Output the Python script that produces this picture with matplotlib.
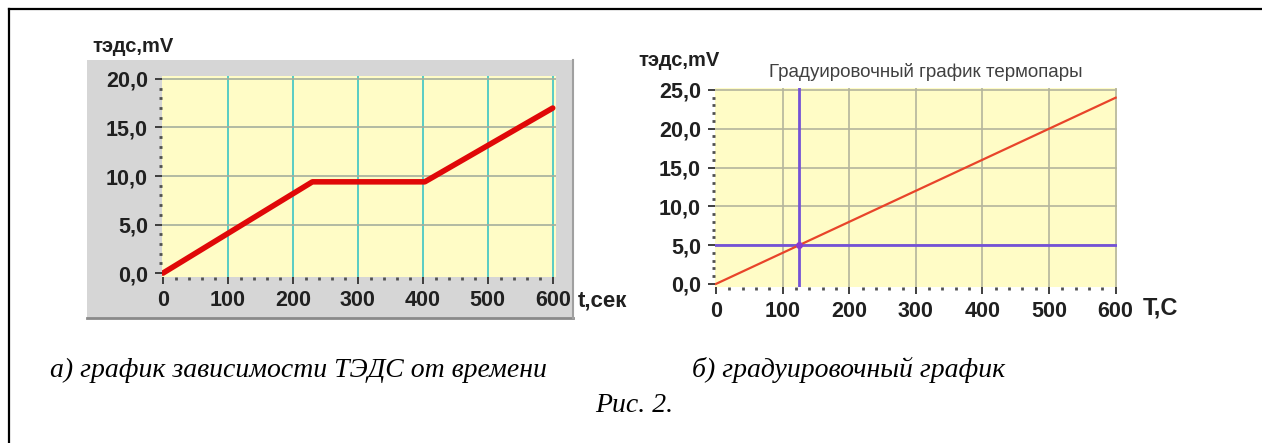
"""Рис. 2 — график ТЭДС от времени и градуировочный график термопары."""

import matplotlib
matplotlib.use("Agg")
import matplotlib.pyplot as plt
from matplotlib.lines import Line2D
from matplotlib.patches import Rectangle
from matplotlib.ticker import MultipleLocator, FixedLocator

W, H = 1262, 443

# а) ТЭДС от времени
time_s = [0, 230, 403, 600]
emf_time = [0.0, 9.4, 9.4, 17.0]
time_ticks = [0, 100, 200, 300, 400, 500, 600]
emf_ticks_a = [0, 5, 10, 15, 20]
emf_labels_a = ["0,0", "5,0", "10,0", "15,0", "20,0"]

# б) градуировочный график
temp_c = [0, 600]
emf_temp = [0.0, 24.0]
temp_ticks = [0, 100, 200, 300, 400, 500, 600]
emf_ticks_b = [0, 5, 10, 15, 20, 25]
emf_labels_b = ["0,0", "5,0", "10,0", "15,0", "20,0", "25,0"]
mark_T, mark_emf = 125, 5.0

SANS = ["Liberation Sans", "DejaVu Sans"]
TICKFONT = dict(family=SANS, weight="bold", size=15.5)
YELLOW = "#fffcc6"


def rect(x0, y0, x1, y1):
    # пиксели -> доли фигуры
    return [x0 / W, 1 - y1 / H, (x1 - x0) / W, (y1 - y0) / H]


def ftext(x, y, s, **kw):
    fig.text(x / W, 1 - y / H, s, **kw)


def style_axis(ax, xt, yt, ylabels):
    for sp in ax.spines.values():
        sp.set_visible(False)
    ax.set_facecolor(YELLOW)
    ax.xaxis.set_major_locator(FixedLocator(xt))
    ax.xaxis.set_minor_locator(MultipleLocator(20))
    ax.yaxis.set_major_locator(FixedLocator(yt))
    ax.yaxis.set_minor_locator(MultipleLocator(1))
    ax.tick_params(which="major", direction="out", length=5, width=1.3, color="#303030",
                   labelcolor="#202020", pad=5)
    ax.tick_params(which="minor", direction="out", length=2, width=2, color="#505050")
    ax.set_xticks(xt)
    ax.set_xticklabels([str(v) for v in xt], **TICKFONT)
    ax.set_yticks(yt)
    ax.set_yticklabels(ylabels, **TICKFONT)
    ax.set_axisbelow(True)


fig = plt.figure(figsize=(W / 100, H / 100), dpi=100)

# рамка страницы (верх и лево)
fig.add_artist(Line2D([9 / W, 1], [1 - 9 / H, 1 - 9 / H], transform=fig.transFigure, color="black", lw=1.6))
fig.add_artist(Line2D([9 / W, 9 / W], [0, 1 - 9 / H], transform=fig.transFigure, color="black", lw=1.6))

# серая панель под графиком а)
x0, y0, x1, y1 = 87, 60, 573, 318
fig.add_artist(Rectangle((x0 / W, 1 - y1 / H), (x1 - x0) / W, (y1 - y0) / H,
                         transform=fig.transFigure, facecolor="#d6d6d6", edgecolor="none", zorder=-10))
fig.add_artist(Line2D([x0 / W, x1 / W], [1 - y1 / H, 1 - y1 / H], transform=fig.transFigure,
                      color="#8a8a8a", lw=2, zorder=-9))
fig.add_artist(Line2D([x1 / W, x1 / W], [1 - y1 / H, 1 - y0 / H], transform=fig.transFigure,
                      color="#a0a0a0", lw=1.5, zorder=-9))

# ---- а) ----
ax1 = fig.add_axes(rect(162, 76, 556, 276.5))
ax1.set_xlim(-1.5, 605)
ax1.set_ylim(-0.35, 20.3)
style_axis(ax1, time_ticks, emf_ticks_a, emf_labels_a)
for v in time_ticks[1:]:
    ax1.axvline(v, color="#3cc4c4", lw=1.2, zorder=1)
for v in emf_ticks_a[1:]:
    ax1.axhline(v, color="#a4ae9c", lw=1.2, zorder=1)
ax1.plot(time_s, emf_time, color="#e00808", lw=4, solid_capstyle="round", zorder=3)
ftext(92, 46, "тэдс,mV", fontsize=14.5, fontweight="bold", color="#202020", va="center", family=SANS)
ftext(578, 301, "t,сек", fontsize=16, fontweight="bold", color="#202020", va="center", family=SANS)

# ---- б) ----
ax2 = fig.add_axes(rect(715, 88, 1117, 287))
ax2.set_xlim(-1.5, 602)
ax2.set_ylim(-0.4, 25.25)
style_axis(ax2, temp_ticks, emf_ticks_b, emf_labels_b)
for v in temp_ticks[1:]:
    ax2.axvline(v, color="#b4b49c", lw=1.2, zorder=1)
for v in emf_ticks_b[1:]:
    ax2.axhline(v, color="#b4b49c", lw=1.2, zorder=1)
ax2.axvline(mark_T, color="#7452d6", lw=2, zorder=2)
ax2.axhline(mark_emf, color="#7452d6", lw=2, zorder=2)
ax2.plot(temp_c, emf_temp, color="#e8442a", lw=1.6, zorder=3)
ax2.plot([mark_T], [mark_emf], "o", color="#8a3ad0", ms=4, zorder=4)
ftext(638, 61, "тэдс,mV", fontsize=14.5, fontweight="bold", color="#202020", va="center", family=SANS)
ftext(926, 72, "Градуировочный график термопары", fontsize=13.5, color="#404040",
      ha="center", va="center", family=SANS)
ftext(1143, 308, "T,C", fontsize=17, fontweight="bold", color="#202020", va="center", family=SANS)

# подписи
CAP = dict(family=["Liberation Serif", "DejaVu Serif"], style="italic", fontsize=20, color="black", va="center")
ftext(50, 370, "а) график зависимости ТЭДС от времени", **CAP)
ftext(692, 370, "б) градуировочный график", **CAP)
ftext(634, 406, "Рис. 2.", ha="center", **CAP)

fig.savefig("out.png", dpi=100)
